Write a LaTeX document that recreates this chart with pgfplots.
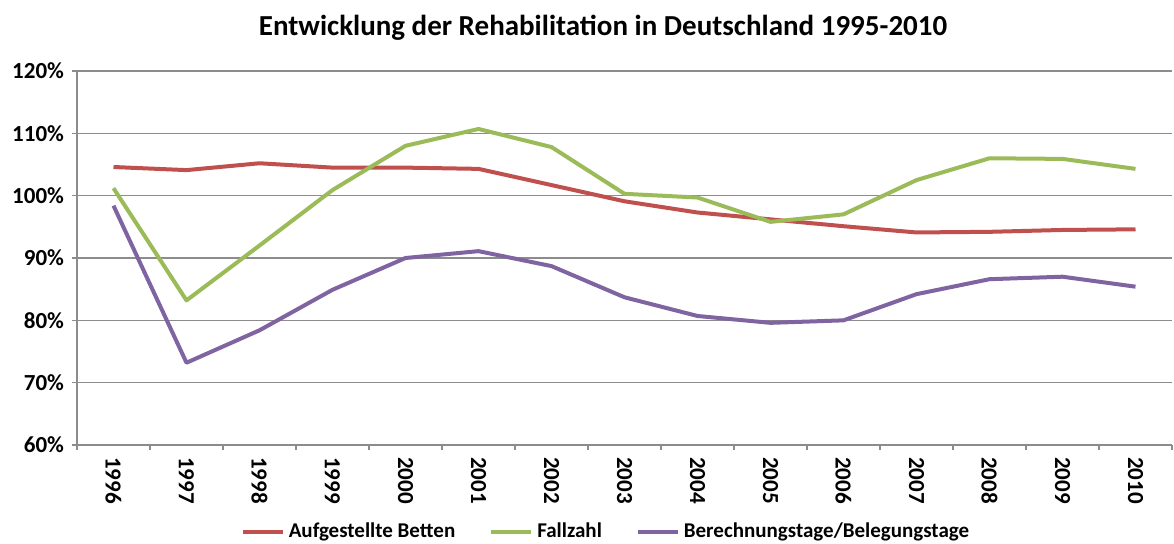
\documentclass[border=0pt]{standalone}
\usepackage{pgfplots}
\pgfplotsset{compat=1.18}
\usepackage{fontspec}
\setmainfont{Carlito}
\definecolor{cRed}{HTML}{C0504D}
\definecolor{cGreen}{HTML}{9BBB59}
\definecolor{cPurple}{HTML}{8064A2}
\definecolor{cGrid}{HTML}{8C8C8C}
\begin{document}
\begin{tikzpicture}
\begin{axis}[
  scale only axis,
  width=547.5pt, height=187pt,
  at={(0,0)}, anchor=south west,
  xmin=-0.5, xmax=14.5,
  ymin=60, ymax=120,
  ytick={60,70,...,120},
  xtick={0,...,14},
  xticklabels={1996,1997,1998,1999,2000,2001,2002,2003,2004,2005,2006,2007,2008,2009,2010},
  minor xtick={-0.5,0.5,...,14.5},
  major x tick style={draw=none},
  minor tick length=2.5pt,
  major tick length=2.5pt,
  tick align=outside,
  axis x line*=bottom, axis y line*=left,
  axis line style={cGrid, line width=0.75pt},
  every tick/.style={cGrid, line width=0.75pt},
  ymajorgrids,
  grid style={cGrid, line width=0.75pt},
  yticklabel={\pgfmathprintnumber{\tick}\%},
  /pgf/number format/assume math mode=true,
  ticklabel style={font=\fontsize{11.5}{13}\selectfont\bfseries},
  yticklabel style={xshift=-0.5pt},
  xticklabel style={rotate=-90, anchor=west, xshift=0pt},
  legend style={at={(0.484,-0.232)}, anchor=center, draw=none, legend columns=3,
    font=\fontsize{10.5}{12}\selectfont\bfseries,
    /tikz/every even column/.append style={column sep=15pt}},
  legend image code/.code={\draw[#1] (0pt,0pt) -- (20pt,0pt);},
  every axis plot/.append style={line width=2pt, line join=round, mark=none},
]
\addplot[cRed] coordinates {(0,104.6) (1,104.1) (2,105.2) (3,104.5) (4,104.5) (5,104.3) (6,101.7) (7,99.1) (8,97.3) (9,96.2) (10,95.1) (11,94.1) (12,94.2) (13,94.5) (14,94.6)};
\addlegendentry{Aufgestellte Betten}
\addplot[cGreen] coordinates {(0,101.2) (1,83.2) (2,92.0) (3,100.9) (4,108.0) (5,110.7) (6,107.8) (7,100.3) (8,99.7) (9,95.8) (10,97.0) (11,102.5) (12,106.0) (13,105.9) (14,104.3)};
\addlegendentry{Fallzahl}
\addplot[cPurple] coordinates {(0,98.4) (1,73.2) (2,78.4) (3,84.9) (4,90.0) (5,91.1) (6,88.7) (7,83.7) (8,80.7) (9,79.6) (10,80.0) (11,84.2) (12,86.6) (13,87.0) (14,85.4)};
\addlegendentry{Berechnungstage/Belegungstage}
\end{axis}
\node[font=\fontsize{14.5}{17}\selectfont\bfseries] at (263pt,208.5pt) {Entwicklung der Rehabilitation in Deutschland 1995-2010};
\pgfresetboundingbox
\path[use as bounding box] (-38.5pt,-49pt) rectangle (548.5pt,222.5pt);
\end{tikzpicture}
\end{document}
